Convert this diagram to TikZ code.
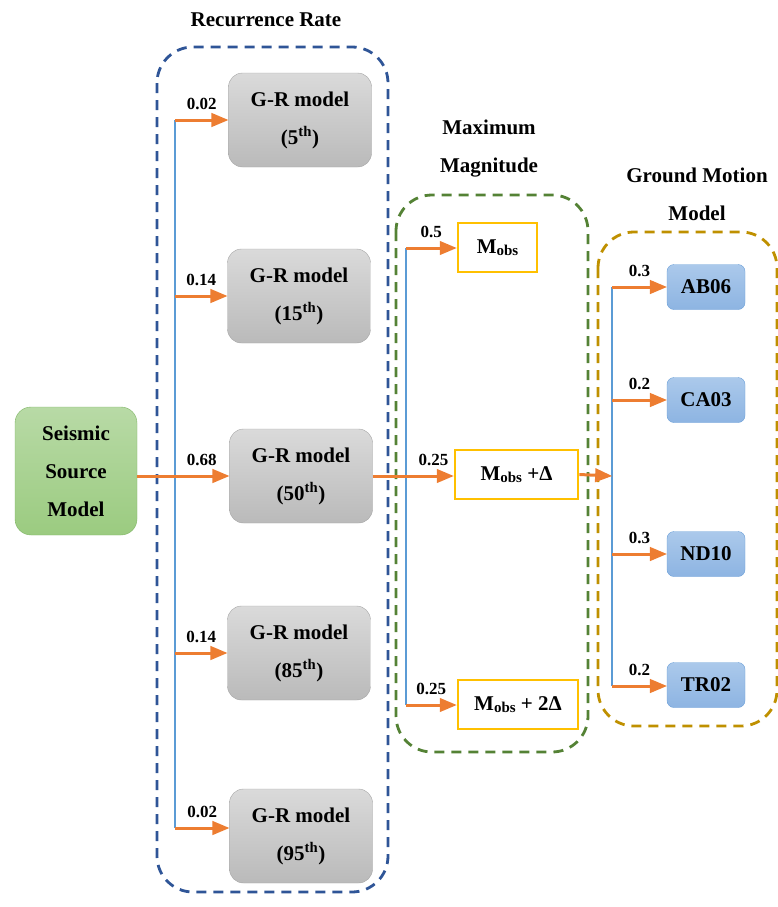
\documentclass[tikz,border=0pt]{standalone}
\usepackage{fontspec}
\setmainfont{Liberation Serif}
\usepackage{tikz}
\usetikzlibrary{arrows}
\definecolor{edge_orange}{RGB}{237,125,49}
\definecolor{line_blue}{RGB}{91,155,213}
\definecolor{dash_blue}{RGB}{47,85,151}
\definecolor{dash_green}{RGB}{84,130,53}
\definecolor{dash_gold}{RGB}{191,144,0}
\definecolor{box_yellow}{RGB}{255,192,0}
\definecolor{node_green_top}{RGB}{184,218,166}
\definecolor{node_green_bot}{RGB}{155,203,128}
\definecolor{edge_green}{RGB}{127,181,101}
\definecolor{node_gray_top}{RGB}{218,218,218}
\definecolor{node_gray_bot}{RGB}{186,186,186}
\definecolor{edge_gray}{RGB}{165,165,165}
\definecolor{node_blue_top}{RGB}{171,201,235}
\definecolor{node_blue_bot}{RGB}{141,180,226}
\definecolor{edge_blue}{RGB}{106,159,216}
\newcommand{\mobs}{M\raisebox{-2pt}{\fontsize{15}{15}\selectfont obs}}

\begin{document}
\begin{tikzpicture}[x=1pt,y=-1pt,>=triangle 45,font=\bfseries\fontsize{21}{38}\selectfont]
    \tikzstyle{wt}=[font=\bfseries\fontsize{17}{17}\selectfont,above=6pt,text=black,inner sep=3pt]
    \tikzstyle{arr}=[->,draw=edge_orange,line width=3pt]
    \tikzstyle{bline}=[draw=line_blue,line width=2.8pt]
    \tikzstyle{group}=[dash pattern=on 10pt off 7pt,line width=2.8pt,rounded corners=36pt]
    \tikzstyle{source}=[draw=edge_green,rounded corners=16pt,top color=node_green_top,bottom color=node_green_bot,minimum width=122,minimum height=128,align=center,text=black]
    \tikzstyle{grbox}=[draw=edge_gray,rounded corners=14pt,top color=node_gray_top,bottom color=node_gray_bot,minimum width=143,minimum height=94,align=center,text=black]
    \tikzstyle{mmax}=[draw=box_yellow,line width=2.8pt,fill=white,minimum height=49,inner sep=2pt,text=black]
    \tikzstyle{gmm}=[draw=edge_blue,rounded corners=7pt,top color=node_blue_top,bottom color=node_blue_bot,minimum width=78,minimum height=45,text=black]

    \useasboundingbox (0,0) rectangle (778,907);

    % logic tree groups
    \draw[group,draw=dash_blue] (157,47) rectangle (388,892);
    \draw[group,draw=dash_green] (396,195) rectangle (588,752);
    \draw[group,draw=dash_gold] (598,232) rectangle (777,726);

    \node (RR) at (266,20) {Recurrence Rate};
    \node[align=center] (MM) at (489,149) {Maximum\\Magnitude};
    \node[align=center] (GM) at (697,194) {Ground Motion\\Model};

    \node[source] (SSM) at (76,471) {Seismic\\Source\\Model};

    \node[grbox] (GR5) at (300,120) {G-R model\\(5\textsuperscript{th})};
    \node[grbox] (GR15) at (299,296) {G-R model\\(15\textsuperscript{th})};
    \node[grbox] (GR50) at (301,476) {G-R model\\(50\textsuperscript{th})};
    \node[grbox] (GR85) at (299,653) {G-R model\\(85\textsuperscript{th})};
    \node[grbox] (GR95) at (301,836) {G-R model\\(95\textsuperscript{th})};

    \node[mmax,minimum width=79] (M0) at (497.5,247.5) {\mobs};
    \node[mmax,minimum width=123] (M1) at (516.5,474.5) {\mobs\ +Δ};
    \node[mmax,minimum width=120] (M2) at (518,704.5) {\mobs\ + 2Δ};

    \node[gmm] (AB) at (706,287) {AB06};
    \node[gmm] (CA) at (706,400) {CA03};
    \node[gmm] (ND) at (706,554) {ND10};
    \node[gmm] (TR) at (706,685) {TR02};

    \coordinate (r5) at (175,120);
    \coordinate (r15) at (175,296);
    \coordinate (r85) at (175,653);
    \coordinate (r95) at (175,828);
    \coordinate (m0) at (406,248);
    \coordinate (m2) at (406,705);
    \coordinate (g0) at (612,287);
    \coordinate (g1) at (612,400);
    \coordinate (g2) at (612,554);
    \coordinate (g3) at (612,686);
    \coordinate (gin) at (612,476);

    \draw[bline] (r5) -- (r95);
    \draw[bline] (m0) -- (m2);
    \draw[bline] (g0) -- (g3);

    \draw[arr] (r5) -- (r5 -| GR5.west) node[wt,midway] {0.02};
    \draw[arr] (r15) -- (r15 -| GR15.west) node[wt,midway] {0.14};
    \draw[arr] (SSM.east |- GR50.west) -- (GR50.west) node[wt,pos=0.7] {0.68};
    \draw[arr] (r85) -- (r85 -| GR85.west) node[wt,midway] {0.14};
    \draw[arr] (r95) -- (r95 -| GR95.west) node[wt,midway] {0.02};

    \draw[arr] (m0) -- (m0 -| M0.west) node[wt,midway] {0.5};
    \draw[arr] (GR50.east) -- (GR50.east -| M1.west) node[wt,pos=0.75] {0.25};
    \draw[arr] (m2) -- (m2 -| M2.west) node[wt,midway] {0.25};
    \draw[arr] (M1.east) -- (gin);

    \draw[arr] (g0) -- (g0 -| AB.west) node[wt,midway] {0.3};
    \draw[arr] (g1) -- (g1 -| CA.west) node[wt,midway] {0.2};
    \draw[arr] (g2) -- (g2 -| ND.west) node[wt,midway] {0.3};
    \draw[arr] (g3) -- (g3 -| TR.west) node[wt,midway] {0.2};
\end{tikzpicture}
\end{document}
